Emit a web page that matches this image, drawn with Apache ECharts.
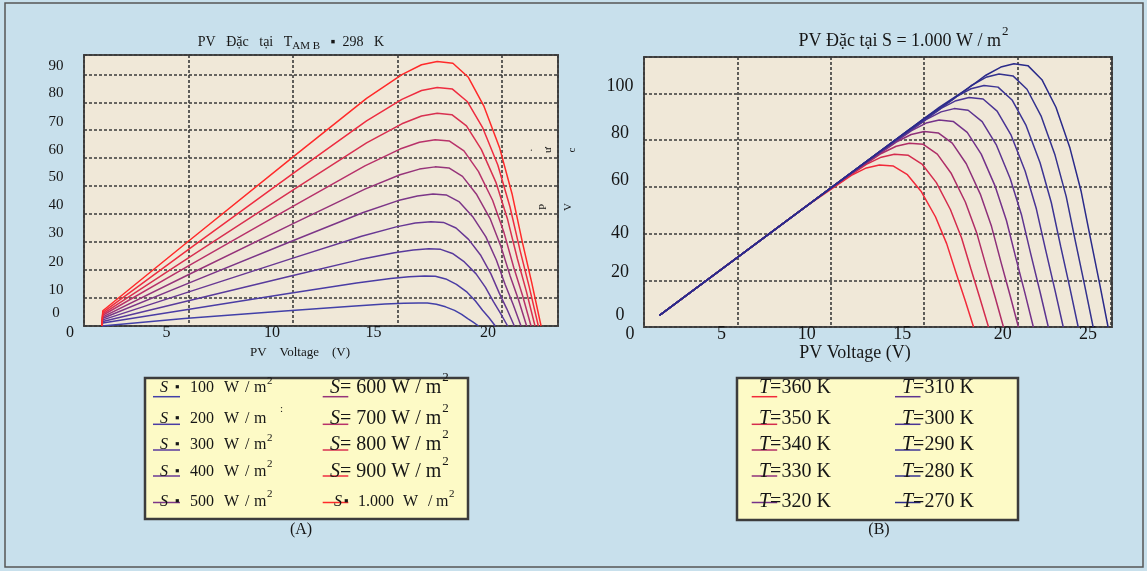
<!DOCTYPE html>
<html>
<head>
<meta charset="utf-8">
<script src="https://cdn.jsdelivr.net/npm/echarts@6/dist/echarts.min.js"></script>
<style>
html,body{margin:0;padding:0;background:#c8e0ec;}
#c{width:1147px;height:571px;}
</style>
</head>
<body>
<div id="c"></div>
<script>
// ---------------- DATA ----------------
// Chart A: PV power (W) vs voltage (V) at T_AMB = 298 K, for irradiance S
const irradianceLabels = ['100','200','300','400','500','600','700','800','900','1.000'];
const S100  = [[0.85,0],[0.9,0.5],[4.8,2.68],[9.6,5.35],[12.8,7.10],[14.4,7.84],[15.3,8.1],[16.0,8.25],[16.43,8.19],[16.86,7.76],[17.3,6.85],[17.73,5.57],[18.07,4.13],[18.36,2.60],[18.62,1.36],[18.88,0]];
const S200  = [[0.85,0],[0.9,1.07],[4.89,5.82],[9.78,11.6],[13.04,15.39],[14.67,17.0],[15.55,17.6],[16.3,17.9],[16.81,17.77],[17.31,16.83],[17.82,14.86],[18.33,12.08],[18.73,8.95],[19.07,5.64],[19.38,2.95],[19.68,0]];
const S300  = [[0.85,0],[0.9,1.63],[4.95,8.97],[9.9,17.88],[13.2,23.74],[14.85,26.22],[15.75,27.2],[16.5,27.6],[17.07,27.41],[17.63,25.94],[18.2,22.91],[18.76,18.63],[19.21,13.8],[19.59,8.69],[19.93,4.55],[20.27,0]];
const S400  = [[0.85,0],[0.9,2.18],[4.98,12.12],[9.96,24.17],[13.28,32.08],[14.94,35.44],[15.85,36.8],[16.6,37.3],[17.2,37.04],[17.8,35.06],[18.4,30.96],[18.99,25.18],[19.47,18.65],[19.87,11.75],[20.23,6.15],[20.59,0]];
const S500  = [[0.85,0],[0.9,2.75],[5.01,15.34],[10.02,30.59],[13.36,40.59],[15.03,44.84],[15.95,46.5],[16.7,47.2],[17.33,46.87],[17.96,44.37],[18.59,39.18],[19.23,31.86],[19.73,23.6],[20.15,14.87],[20.53,7.79],[20.91,0]];
const S600  = [[0.85,0],[0.9,3.29],[5.04,18.49],[10.08,36.87],[13.44,48.93],[15.12,54.06],[16.05,56.1],[16.8,56.9],[17.46,56.5],[18.11,53.49],[18.77,47.23],[19.43,38.41],[19.95,28.45],[20.39,17.92],[20.79,9.39],[21.18,0]];
const S700  = [[0.85,0],[0.9,3.85],[5.04,21.65],[10.08,43.16],[13.44,57.28],[15.12,63.27],[16.05,65.7],[16.8,66.6],[17.49,66.13],[18.18,62.6],[18.87,55.28],[19.55,44.96],[20.1,33.3],[20.56,20.98],[20.98,10.99],[21.39,0]];
const S800  = [[0.85,0],[0.9,4.37],[5.07,24.73],[10.14,49.31],[13.52,65.45],[15.21,72.3],[16.15,75.1],[16.9,76.1],[17.6,75.57],[18.3,71.53],[19.01,63.16],[19.71,51.37],[20.27,38.05],[20.74,23.97],[21.16,12.56],[21.58,0]];
const S900  = [[0.85,0],[0.9,4.9],[5.07,27.72],[10.14,55.27],[13.52,73.36],[15.21,81.04],[16.15,84.2],[16.9,85.3],[17.63,84.7],[18.35,80.18],[19.08,70.8],[19.8,57.58],[20.38,42.65],[20.87,26.87],[21.3,14.07],[21.74,0]];
const S1000 = [[0.85,0],[0.9,5.44],[5.07,30.75],[10.14,61.3],[13.52,81.36],[15.21,89.87],[16.15,93.4],[16.9,94.6],[17.65,93.94],[18.39,88.92],[19.14,78.52],[19.88,63.86],[20.48,47.3],[20.98,29.8],[21.42,15.61],[21.87,0]];

// Chart B: PV power (W) vs voltage (V) at S = 1.000 W/m², for cell temperature T
const temperatureLabels = ['360','350','340','330','320','310','300','290','280','270'];
const T360 = [[0.83,4.94],[8.6,51.2],[10.1,59.5],[11.1,64.9],[11.9,68.1],[12.6,69.4],[13.35,68.9],[14.1,65.2],[14.85,57.9],[15.6,47.2],[16.2,35.7],[16.7,23.2],[17.2,11.1],[17.64,0]];
const T350 = [[0.83,4.94],[9.4,55.9],[10.9,64.2],[11.9,69.6],[12.7,72.7],[13.4,74.0],[14.15,73.5],[14.9,69.6],[15.65,61.8],[16.4,50.3],[17.0,38.1],[17.5,24.8],[18.0,11.8],[18.44,0]];
const T340 = [[0.83,4.94],[10.2,60.7],[11.7,68.9],[12.7,74.3],[13.5,77.4],[14.2,78.7],[14.95,78.2],[15.7,74.0],[16.45,65.7],[17.2,53.5],[17.8,40.5],[18.3,26.4],[18.8,12.6],[19.24,0]];
const T330 = [[0.83,4.94],[11.0,65.5],[12.5,73.6],[13.5,79.2],[14.3,82.4],[15.0,83.7],[15.75,83.1],[16.5,78.7],[17.25,69.9],[18.0,56.9],[18.6,43.1],[19.1,28.0],[19.6,13.4],[20.04,0]];
const T320 = [[0.83,4.94],[11.8,70.2],[13.3,78.3],[14.3,84.0],[15.1,87.3],[15.8,88.6],[16.55,88.0],[17.3,83.3],[18.05,74.0],[18.8,60.2],[19.4,45.6],[19.9,29.7],[20.4,14.2],[20.84,0]];
const T310 = [[0.83,4.94],[12.6,75.0],[14.1,83.1],[15.1,88.8],[15.9,92.1],[16.6,93.5],[17.35,92.8],[18.1,87.9],[18.85,78.1],[19.6,63.6],[20.2,48.2],[20.7,31.3],[21.2,15.0],[21.64,0]];
const T300 = [[0.83,4.94],[13.4,79.7],[14.9,87.8],[15.9,93.6],[16.7,96.9],[17.4,98.3],[18.15,97.6],[18.9,92.4],[19.65,82.1],[20.4,66.8],[21.0,50.6],[21.5,32.9],[22.0,15.7],[22.44,0]];
const T290 = [[0.83,4.94],[14.2,84.5],[15.7,92.5],[16.7,98.5],[17.5,102.0],[18.2,103.4],[18.95,102.7],[19.7,97.2],[20.45,86.3],[21.2,70.3],[21.8,53.3],[22.3,34.6],[22.8,16.5],[23.24,0]];
const T280 = [[0.83,4.94],[15.0,89.3],[16.5,97.2],[17.5,103.3],[18.3,106.9],[19.0,108.3],[19.75,107.5],[20.5,101.8],[21.25,90.4],[22.0,73.6],[22.6,55.8],[23.1,36.3],[23.6,17.3],[24.04,0]];
const T270 = [[0.83,4.94],[15.8,94.0],[17.3,101.9],[18.3,107.8],[19.1,111.3],[19.8,112.7],[20.55,111.9],[21.3,105.9],[22.05,94.1],[22.8,76.6],[23.4,58.0],[23.9,37.8],[24.4,18.0],[24.84,0]];

// Tick labels
const leftXTicks  = [0, 5, 10, 15, 20];
const leftYTicks  = [0, 10, 20, 30, 40, 50, 60, 70, 80, 90];
const rightXTicks = [0, 5, 10, 15, 20, 25];
const rightYTicks = [0, 20, 40, 60, 80, 100];

// ---------------- STYLE ----------------
const leftColors  = ['#4240a8','#4a3ca4','#583a9c','#683894','#7c3688','#96347a','#b8326a','#d83050','#ee2c40','#ff2a2a'];
const rightColors = ['#f22a3a','#d42c4e','#b02e66','#8e307a','#74328a','#5c3490','#4a3494','#3c3494','#34328e','#2a2a8a'];
const FONT = '"Liberation Serif", "Times New Roman", serif';
const INK = '#161616';
// label displacement (px) seen in the reference
const leftXShift  = {0:14, 5:22, 10:21, 15:24, 20:14};
const leftYShift  = {0:13, 10:8, 20:8, 30:9, 40:9, 50:9, 60:8, 70:8, 80:9, 90:8};
const rightXShift = {0:14, 5:16, 10:24, 15:22, 20:15, 25:23};
const rightYShift = {0:12, 20:8, 40:0, 60:7, 80:7, 100:7};

function xRich(ticks, shift, size){
  const r = {};
  ticks.forEach(v => { r['k'+v] = {fontFamily:FONT, fontSize:size, color:INK, padding:[0, 2*shift[v], 0, 0]}; });
  return r;
}
function yRich(ticks, shift, size){
  const r = {};
  ticks.forEach(v => { r['k'+v] = {fontFamily:FONT, fontSize:size, color:INK, padding:[0, 0, 2*shift[v], 0]}; });
  return r;
}
const gridLine = {show:true, lineStyle:{color:'#3a3a3a', type:[3,2], width:1.6}};

const mctx = document.createElement('canvas').getContext('2d');
function tw(text, size, style){ mctx.font = (style||'') + ' ' + size + 'px "Liberation Serif"'; return mctx.measureText(text).width; }

// ---------------- GRAPHICS (titles, legends, captions) ----------------
const G = [];
function txt(x, y, text, size, extra, elExtra){
  G.push(Object.assign({type:'text', silent:true, style:Object.assign({x:x, y:y, text:text, fill:INK, fontFamily:FONT, fontSize:size, align:'left', verticalAlign:'middle'}, extra||{})}, elExtra||{}));
}
function seg(x1, x2, y, color){
  G.push({type:'line', silent:true, shape:{x1:x1, y1:y, x2:x2, y2:y}, style:{stroke:color, lineWidth:1.5}});
}
// outer frame
G.push({type:'rect', silent:true, shape:{x:5, y:3, width:1138, height:564}, style:{fill:'none', stroke:'#555', lineWidth:1.5}});

// Title A
(function(){
  const a = 'PV   Đặc   tại   T', b = 'AM B', c = '   ▪  298   K';
  const wa = tw(a, 14), wb = tw(b, 11), wc = tw(c, 14);
  const x0 = 291 - (wa + wb + wc) / 2;
  txt(x0, 42, a, 14);
  txt(x0 + wa, 46, b, 11);
  txt(x0 + wa + wb, 42, c, 14);
})();
// Title B
(function(){
  const a = 'PV Đặc tại S = 1.000 W / m', s = '2';
  const wa = tw(a, 18), ws = tw(s, 13);
  const x0 = 903 - (wa + ws) / 2;
  txt(x0, 41, a, 18);
  txt(x0 + wa + 1, 32, s, 13);
})();

// Legend boxes
G.push({type:'rect', silent:true, shape:{x:145, y:378, width:323, height:141}, style:{fill:'#fdfac6', stroke:'#3c3c3c', lineWidth:2.5}});
G.push({type:'rect', silent:true, shape:{x:737, y:378, width:281, height:142}, style:{fill:'#fdfac6', stroke:'#3c3c3c', lineWidth:2.5}});

const rowTextY = [388, 418.5, 445, 471.5, 501.5];
const rowLineY = [396.7, 424.3, 450, 476, 502.5];
// Legend A, left column (condensed style)
for (let i = 0; i < 5; i++) {
  const y = rowTextY[i];
  seg(153, 180, rowLineY[i], leftColors[i]);
  txt(160, y, 'S', 16, {fontStyle:'italic'});
  txt(175, y, '▪', 13);
  txt(190, y, irradianceLabels[i], 16);
  txt(224, y, 'W', 16);
  txt(245, y, '/', 16);
  txt(254, y, 'm', 16);
  if (i === 1) txt(280, y - 9, ':', 11); else txt(267, y - 7, '2', 11);
}
// Legend A, right column
for (let i = 5; i < 9; i++) {
  const r = i - 5, y = rowTextY[r];
  seg(322.7, 348.3, rowLineY[r], leftColors[i]);
  const rest = '= ' + irradianceLabels[i] + ' W / m';
  txt(330, y, '{i|S}' + rest, 20, {rich:{i:{fontFamily:FONT, fontSize:20, fontStyle:'italic', fill:INK}}});
  txt(330 + tw('S', 20, 'italic') + tw(rest, 20) + 1, y - 10, '2', 13);
}
(function(){
  const y = rowTextY[4];
  seg(322.7, 348.3, rowLineY[4], leftColors[9]);
  txt(334, y, 'S', 16, {fontStyle:'italic'});
  txt(344, y, '▪', 13);
  txt(358, y, irradianceLabels[9], 16);
  txt(403, y, 'W', 16);
  txt(428, y, '/', 16);
  txt(436, y, 'm', 16);
  txt(449, y - 7, '2', 11);
})();
// Legend B
for (let i = 0; i < 10; i++) {
  const col = i < 5 ? 0 : 1, r = i % 5;
  const lx = col === 0 ? 751.7 : 895, tx = col === 0 ? 759 : 902;
  seg(lx, lx + 25.5, rowLineY[r], rightColors[i]);
  txt(tx, rowTextY[r], '{i|T}=' + temperatureLabels[i] + ' K', 20, {rich:{i:{fontFamily:FONT, fontSize:20, fontStyle:'italic', fill:INK}}});
}
// Captions
txt(301, 530, '(A)', 16, {align:'center'});
txt(879, 530, '(B)', 16, {align:'center'});
// stray rotated glyphs next to plot A (as in the reference)
[[529,150,'.'],[548,150,'ư'],[572,150,'c'],[543,207,'P'],[568,207,'V']].forEach(a => {
  txt(0, 0, a[2], 11, {align:'center'}, {x:a[0], y:a[1], rotation:Math.PI/2});
});

// ---------------- CHART ----------------
const chart = echarts.init(document.getElementById('c'), null, {renderer:'canvas', width:1147, height:571});
const leftData = [S100, S200, S300, S400, S500, S600, S700, S800, S900, S1000];
const rightData = [T360, T350, T340, T330, T320, T310, T300, T290, T280, T270];

const option = {
  animation:false,
  backgroundColor:'#c8e0ec',
  grid:[
    {left:84, top:55, width:474, height:271, show:true, backgroundColor:'#f0e8d8', borderColor:'#4a4a4a', borderWidth:2},
    {left:644, top:57, width:468, height:270, show:true, backgroundColor:'#f0e8d8', borderColor:'#4a4a4a', borderWidth:2}
  ],
  xAxis:[
    {gridIndex:0, type:'value', min:0, max:22.68, interval:5,
     splitLine:gridLine, axisLine:{show:false}, axisTick:{show:false},
     axisLabel:{margin:-1, formatter:v => leftXTicks.includes(v) ? '{k'+v+'|'+v+'}' : '', rich:xRich(leftXTicks, leftXShift, 16)},
     name:'PV    Voltage    (V)', nameLocation:'middle', nameGap:20,
     nameTextStyle:{fontFamily:FONT, fontSize:13, color:INK, padding:[0,42,0,0]}},
    {gridIndex:1, type:'value', min:0, max:25.05, interval:5,
     splitLine:gridLine, axisLine:{show:false}, axisTick:{show:false},
     axisLabel:{margin:-2, formatter:v => rightXTicks.includes(v) ? '{k'+v+'|'+v+'}' : '', rich:xRich(rightXTicks, rightXShift, 18)},
     name:'PV Voltage (V)', nameLocation:'middle', nameGap:17,
     nameTextStyle:{fontFamily:FONT, fontSize:18, color:INK, padding:[0,46,0,0]}}
  ],
  yAxis:[
    {gridIndex:0, type:'value', min:0, max:96.9, interval:10,
     splitLine:gridLine, axisLine:{show:false}, axisTick:{show:false},
     axisLabel:{align:'center', margin:28, formatter:v => leftYTicks.includes(v) ? '{k'+v+'|'+v+'}' : '', rich:yRich(leftYTicks, leftYShift, 15)}},
    {gridIndex:1, type:'value', min:0, max:115.6, interval:20,
     splitLine:gridLine, axisLine:{show:false}, axisTick:{show:false},
     axisLabel:{align:'center', margin:24, formatter:v => rightYTicks.includes(v) ? '{k'+v+'|'+v+'}' : '', rich:yRich(rightYTicks, rightYShift, 18)}}
  ],
  series: leftData.map((d, i) => ({
      type:'line', name:'S = ' + irradianceLabels[i] + ' W/m²', xAxisIndex:0, yAxisIndex:0, data:d,
      showSymbol:false, smooth:false, silent:true, z:3 + i,
      lineStyle:{color:leftColors[i], width:1.5}, itemStyle:{color:leftColors[i]}
    })).concat(rightData.map((d, i) => ({
      type:'line', name:'T = ' + temperatureLabels[i] + ' K', xAxisIndex:1, yAxisIndex:1, data:d,
      showSymbol:false, smooth:false, silent:true, z:3 + i,
      lineStyle:{color:rightColors[i], width:1.5}, itemStyle:{color:rightColors[i]}
    }))),
  graphic: G
};
chart.setOption(option);
</script>
</body>
</html>
